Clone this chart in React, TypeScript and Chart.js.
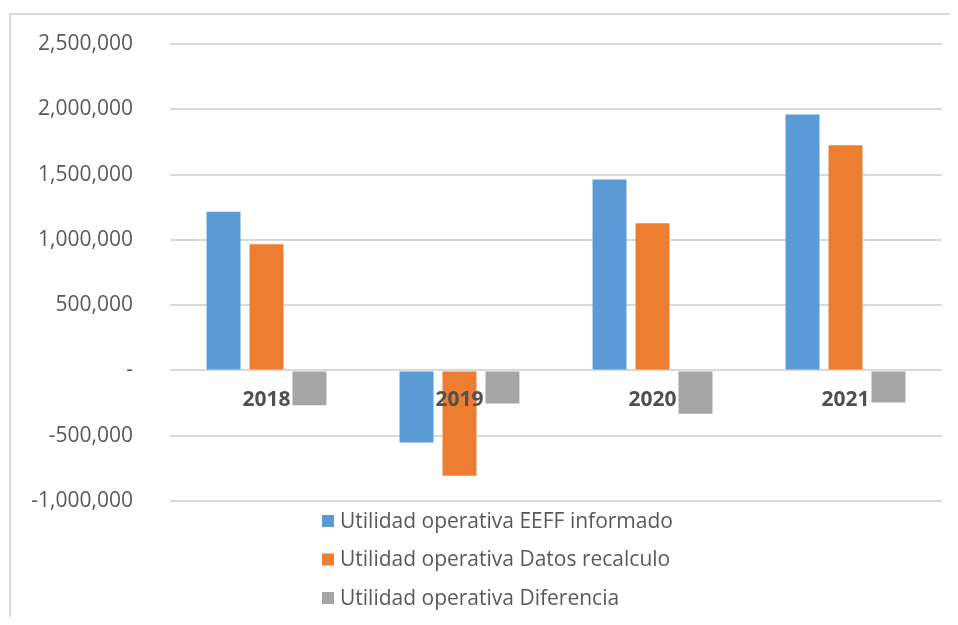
import React, { useEffect, useRef } from "react";
import { Chart, registerables } from "chart.js";

Chart.register(...registerables);

const categories = ["2018", "2019", "2020", "2021"];
const eeffInformado = [1216000, -552000, 1463000, 1960000];
const datosRecalculo = [967000, -807000, 1127000, 1725000];
const diferencia = [-267000, -254000, -331000, -245000];
const seriesLabels = [
  "Utilidad operativa EEFF informado",
  "Utilidad operativa Datos recalculo",
  "Utilidad operativa Diferencia",
];
const seriesColors = ["#5b9bd5", "#ed7d31", "#a5a5a5"];
const yMin = -1000000;
const yMax = 2500000;
const yStep = 500000;

const FONT = '"Open Sans", "DejaVu Sans", sans-serif';

const framePlugin = {
  id: "frame",
  beforeDraw(chart: any) {
    const { ctx, width, height } = chart;
    ctx.save();
    ctx.fillStyle = "#d9d9d9";
    ctx.fillRect(1, 5, width, 2);
    ctx.fillRect(1, 5, 2, height);
    ctx.restore();
  },
};

const legendPlugin = {
  id: "verticalLegend",
  afterDraw(chart: any) {
    const { ctx, chartArea } = chart;
    ctx.save();
    ctx.font = `21px ${FONT}`;
    ctx.textBaseline = "middle";
    ctx.textAlign = "left";
    chart.data.datasets.forEach((ds: any, i: number) => {
      const y = chartArea.bottom + 20 + i * 38.5;
      ctx.fillStyle = ds.backgroundColor;
      ctx.fillRect(314, y - 6, 12, 12);
      ctx.fillStyle = "#595959";
      ctx.fillText(ds.label, 332, y + 1);
    });
    ctx.restore();
  },
};

export default function App() {
  const ref = useRef<HTMLCanvasElement>(null);

  useEffect(() => {
    if (!ref.current) return;
    const chart = new Chart(ref.current, {
      type: "bar",
      data: {
        labels: categories,
        datasets: [
          { label: seriesLabels[0], data: eeffInformado, backgroundColor: seriesColors[0] },
          { label: seriesLabels[1], data: datosRecalculo, backgroundColor: seriesColors[1] },
          { label: seriesLabels[2], data: diferencia, backgroundColor: seriesColors[2] },
        ],
      },
      options: {
        animation: false,
        responsive: false,
        maintainAspectRatio: false,
        devicePixelRatio: 1,
        layout: { padding: { top: 36, right: 16, bottom: 116, left: 0 } },
        datasets: {
          bar: { categoryPercentage: 0.668, barPercentage: 0.79 },
        },
        plugins: {
          legend: { display: false },
          tooltip: { enabled: false },
        },
        scales: {
          x: {
            position: { y: 0 } as any,
            afterFit: (s: any) => {
              s.height = 0;
            },
            grid: { display: false, drawTicks: false },
            border: { display: false },
            ticks: {
              z: 1,
              padding: 17,
              color: "#505050",
              font: { family: FONT, size: 21, weight: "bold" },
            },
          },
          y: {
            min: yMin,
            max: yMax,
            afterFit: (s: any) => {
              s.width = 162;
              s.paddingTop = 13;
              s.paddingBottom = 13;
            },
            grid: { color: "#d9d9d9", lineWidth: 2, drawTicks: false },
            border: { display: false },
            ticks: {
              stepSize: yStep,
              padding: 37,
              color: "#595959",
              font: { family: FONT, size: 21 },
              callback: (v: any) => (Number(v) === 0 ? "-" : Number(v).toLocaleString("en-US")),
            },
          },
        },
      },
      plugins: [framePlugin, legendPlugin],
    } as any);
    return () => chart.destroy();
  }, []);

  return (
    <div style={{ width: 950, height: 609, position: "relative", overflow: "hidden" }}>
      <canvas ref={ref} width={950} height={609} style={{ display: "block", width: 950, height: 609 }} />
    </div>
  );
}
